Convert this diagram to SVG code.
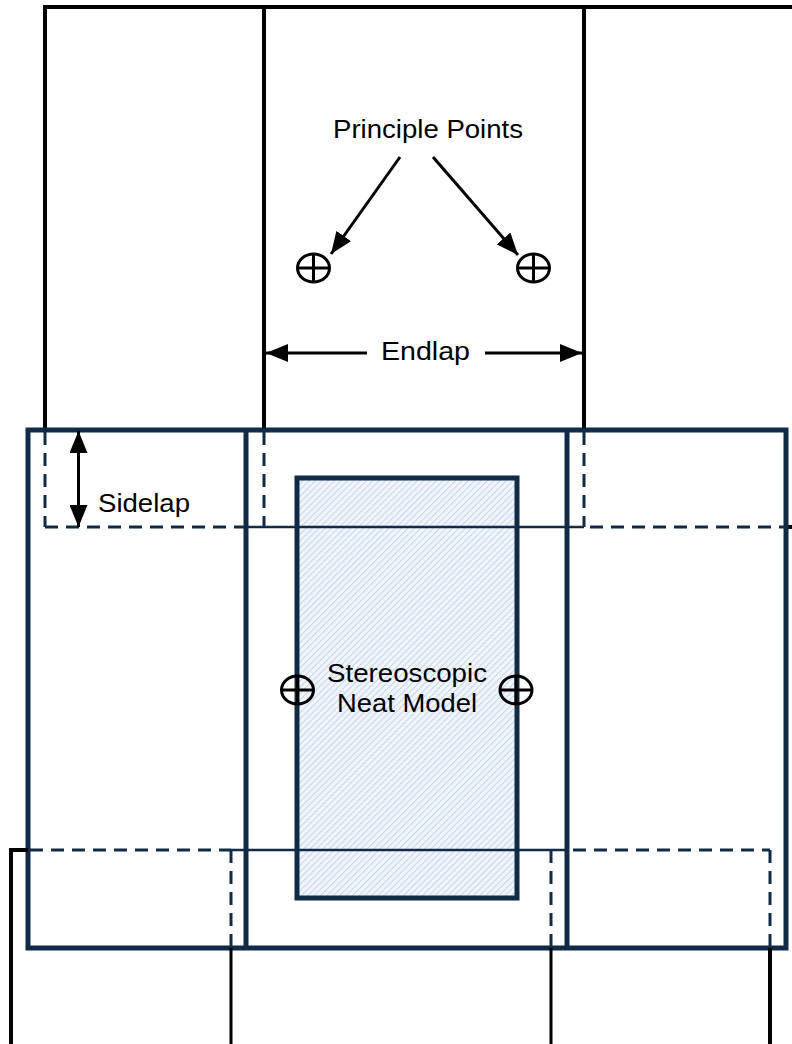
<svg xmlns="http://www.w3.org/2000/svg" width="792" height="1044" viewBox="0 0 792 1044">
<style>
.blk{stroke:#000;fill:none;stroke-width:4}
.blk3{stroke:#000;fill:none;stroke-width:3}
.navy{stroke:#112a46;fill:none;stroke-width:5}
.hatched{stroke:#112a46;fill:url(#hatch);stroke-width:5}
.thin{stroke:#112a46;fill:none;stroke-width:2.5}
.dash{stroke:#112a46;fill:none;stroke-width:3;stroke-dasharray:13 8}
.lbl{font-family:"Liberation Sans",Arial,sans-serif;font-size:26px;fill:#000}
.pp{stroke:#000;stroke-width:3;fill:none}
.arr{stroke:#000;stroke-width:3;fill:none}
</style>
<defs>
<pattern id="hatch" patternUnits="userSpaceOnUse" width="4.5" height="4.5" patternTransform="rotate(45)">
<rect width="4.5" height="4.5" fill="#f2f6fc"/>
<line x1="0" y1="0" x2="0" y2="4.5" stroke="#c3d4ee" stroke-width="2"/>
</pattern>
<marker id="ah" markerUnits="userSpaceOnUse" markerWidth="24" markerHeight="18" refX="22" refY="9" orient="auto">
<path d="M0,0 L22,9 L0,18 z" fill="#000"/>
</marker>
</defs>
<rect width="792" height="1044" fill="#fff"/>

<g id="top-row">
<path class="blk" d="M45,430 V7 H792"/>
<line class="blk" x1="264" y1="7" x2="264" y2="430"/>
<line class="blk" x1="584" y1="7" x2="584" y2="430"/>
<line class="blk" x1="786" y1="527" x2="792" y2="527"/>
</g>

<g id="middle-row">
<rect class="navy" x="28" y="430" width="758" height="518"/>
<line class="navy" x1="246" y1="430" x2="246" y2="948"/>
<line class="navy" x1="567" y1="430" x2="567" y2="948"/>
</g>

<g id="overlaps">
<line class="dash" x1="45" y1="432" x2="45" y2="527"/>
<line class="dash" x1="45" y1="527" x2="246" y2="527"/>
<line class="dash" x1="264" y1="432" x2="264" y2="527"/>
<line class="dash" x1="584" y1="432" x2="584" y2="527"/>
<line class="dash" x1="590" y1="527" x2="786" y2="527"/>
<line class="thin" x1="248" y1="527" x2="584" y2="527"/>
<line class="dash" x1="30" y1="850" x2="231" y2="850"/>
<line class="thin" x1="231" y1="850" x2="567" y2="850"/>
<line class="dash" x1="573" y1="850" x2="770" y2="850"/>
<line class="dash" x1="231" y1="850" x2="231" y2="946"/>
<line class="dash" x1="551" y1="850" x2="551" y2="946"/>
<line class="dash" x1="770" y1="850" x2="770" y2="946"/>
</g>

<g id="neat-model">
<rect class="hatched" x="297" y="478" width="220" height="420"/>
<line class="thin" x1="297" y1="527" x2="517" y2="527"/>
<line class="thin" x1="297" y1="850" x2="517" y2="850"/>
<text class="lbl" x="327" y="682" textLength="160" lengthAdjust="spacingAndGlyphs">Stereoscopic</text>
<text class="lbl" x="337" y="712" textLength="140" lengthAdjust="spacingAndGlyphs">Neat Model</text>
</g>

<g id="bottom-row">
<path class="blk" d="M28,850 H11 V1044"/>
<line class="blk3" x1="231" y1="948" x2="231" y2="1044"/>
<line class="blk3" x1="551" y1="948" x2="551" y2="1044"/>
<line class="blk" x1="770" y1="948" x2="770" y2="1044"/>
</g>

<g id="principal-points">
<g id="pp1"><ellipse class="pp" cx="313.5" cy="268" rx="16" ry="14"/><path class="pp" d="M297.5,268 H329.5 M313.5,254 V282"/></g>
<g id="pp2"><ellipse class="pp" cx="533.5" cy="268" rx="16" ry="14"/><path class="pp" d="M517.5,268 H549.5 M533.5,254 V282"/></g>
<g id="pp3"><ellipse class="pp" cx="297.5" cy="690" rx="16" ry="14"/><path class="pp" d="M281.5,690 H313.5 M297.5,676 V704"/></g>
<g id="pp4"><ellipse class="pp" cx="516" cy="690" rx="16" ry="14"/><path class="pp" d="M500,690 H532 M516,676 V704"/></g>
</g>

<g id="labels">
<text class="lbl" x="333" y="138" textLength="190" lengthAdjust="spacingAndGlyphs">Principle Points</text>
<text class="lbl" x="381" y="360" textLength="89" lengthAdjust="spacingAndGlyphs">Endlap</text>
<text class="lbl" x="98" y="512" textLength="92" lengthAdjust="spacingAndGlyphs">Sidelap</text>
</g>

<g id="connectors">
<line class="arr" x1="400" y1="157" x2="331" y2="254" marker-end="url(#ah)"/>
<line class="arr" x1="433" y1="157" x2="518" y2="255" marker-end="url(#ah)"/>
<line class="arr" x1="367" y1="353" x2="266" y2="353" marker-end="url(#ah)"/>
<line class="arr" x1="485" y1="353" x2="582" y2="353" marker-end="url(#ah)"/>
<line class="arr" x1="78.5" y1="478" x2="78.5" y2="431" marker-end="url(#ah)"/>
<line class="arr" x1="78.5" y1="478" x2="78.5" y2="527" marker-end="url(#ah)"/>
</g>
</svg>
